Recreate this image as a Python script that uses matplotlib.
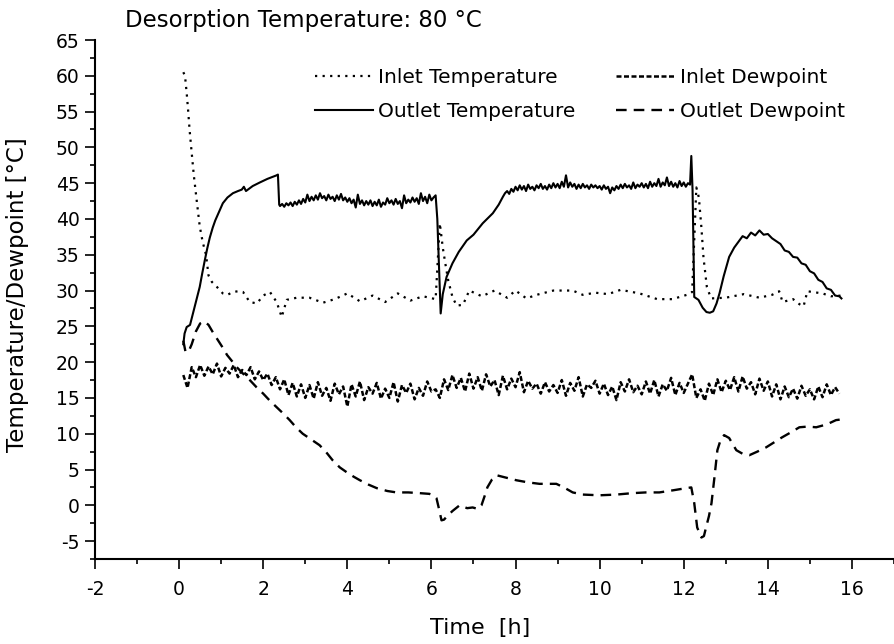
import numpy as np
import matplotlib
matplotlib.use("Agg")
import matplotlib.pyplot as plt
from matplotlib.ticker import MultipleLocator

plt.rcParams['font.family'] = ['DejaVu Sans']

# ---------------- data ----------------
# Inlet temperature
t_in_temp = [0.10, 0.14, 0.18, 0.21, 0.25, 0.30, 0.35, 0.42, 0.49, 0.56, 0.64, 0.70, 0.78, 0.90,
             1.04, 1.15, 1.28, 1.40, 1.52, 1.68, 1.85, 2.00, 2.16, 2.32, 2.44, 2.56, 2.80, 3.10,
             3.42, 3.70, 4.0, 4.3, 4.6, 4.9, 5.2, 5.5, 5.8, 6.1, 6.2, 6.27, 6.33, 6.40, 6.50,
             6.60, 6.75, 6.9, 7.2, 7.5, 7.8, 8.0, 8.26, 8.5, 8.9, 9.36, 9.6, 9.9, 10.2, 10.5,
             10.95, 11.37, 11.73, 12.13, 12.2, 12.3, 12.36, 12.42, 12.47, 12.55, 12.65, 13.0,
             13.43, 13.8, 14.1, 14.27, 14.35, 14.6, 14.75, 14.85, 14.94, 15.3, 15.5, 15.75]
inlet_temp = [60.5, 60.0, 57.6, 55.5, 52.4, 49.2, 46.1, 42.5, 39.0, 36.8, 35.0, 32.1, 31.2, 30.5,
              29.6, 29.4, 29.8, 29.9, 29.8, 28.4, 28.2, 29.3, 29.8, 28.4, 26.3, 28.7, 29.0, 29.0,
              28.3, 28.8, 29.6, 28.5, 29.3, 28.4, 29.6, 28.6, 29.2, 28.8, 39.4, 36.0, 33.8, 31.4, 29.1,
              27.9, 28.0, 30.0, 29.2, 30.0, 29.0, 30.0, 28.9, 29.4, 30.0, 30.0, 29.4, 29.7, 29.5, 30.1,
              29.6, 28.8, 28.8, 29.5, 29.8, 44.4, 43.0, 38.8, 34.6, 30.5, 28.9, 29.0,
              29.5, 29.0, 29.4, 29.9, 28.4, 28.8, 28.1, 27.8, 29.9, 29.6, 29.2, 29.3]

# Outlet temperature (rise, plateau 1, recovery, plateau 2, final hump)
t_out_rise = [0.10, 0.13, 0.18, 0.26, 0.33, 0.41, 0.49, 0.55, 0.61, 0.67, 0.73, 0.80, 0.86, 0.95,
              1.04, 1.15, 1.28, 1.40, 1.49, 1.54, 1.59, 1.75, 1.92, 2.10, 2.32, 2.35, 2.38]
out_rise = [22.5, 24.0, 24.9, 25.2, 26.8, 28.6, 30.5, 32.4, 34.2, 35.9, 37.4, 38.8, 39.8, 41.0,
            42.2, 43.0, 43.6, 43.9, 44.1, 44.5, 43.9, 44.6, 45.1, 45.6, 46.1, 46.2, 42.0]
out_plateau1 = [41.8, 42.1, 41.7, 42.2, 41.9, 42.3, 41.8, 42.4, 42.0, 42.6, 42.1, 42.8,
                42.3, 43.4, 42.5, 43.1, 42.6, 43.3, 42.7, 43.6, 42.9, 43.2, 42.6, 43.4, 42.8, 43.1,
                42.5, 43.3, 42.7, 43.5, 42.6, 43.0,
                42.4, 42.9, 42.2, 42.7, 41.6, 43.4, 42.1, 42.6, 41.9, 42.5, 42.0, 42.6, 41.8, 42.4,
                41.9, 42.7, 41.7, 42.3, 42.0, 42.9,
                42.2, 42.6, 42.0, 42.8, 42.1, 42.5, 41.5, 43.3, 42.2, 42.7, 42.3, 43.0, 42.4, 42.9,
                42.1, 43.6, 42.5, 43.1, 42.2, 43.4,
                42.6, 43.0, 43.3]
t_out_plateau1 = np.linspace(2.40, 6.10, len(out_plateau1))
t_out_recov = [6.14, 6.22, 6.27, 6.36, 6.50, 6.65, 6.84, 7.00, 7.22, 7.46, 7.60, 7.70]
out_recov = [40.0, 26.8, 29.5, 31.9, 33.8, 35.4, 37.0, 37.8, 39.4, 40.8, 42.0, 43.1]
out_plateau2 = [43.6, 43.9, 43.5, 44.2, 43.8,
                44.5, 44.0, 44.7, 44.1, 44.6, 43.9, 44.8, 44.2, 44.5, 44.0, 44.7, 44.3, 44.9, 44.2,
                44.6, 44.1, 44.8, 44.3, 45.0, 44.4,
                44.9, 44.3, 45.2, 44.5, 46.1, 44.4, 45.1, 44.5, 44.9, 44.2, 44.8, 44.3, 44.9, 44.4,
                44.7, 44.2, 44.8, 44.4, 44.7, 44.3,
                44.6, 44.1, 44.7, 44.2, 44.5, 43.6, 44.4, 44.0, 44.6, 44.2, 44.8, 44.3, 44.9, 44.4,
                44.7, 44.2, 45.1, 44.3, 44.8, 44.5,
                45.0, 44.4, 44.9, 44.3, 45.2, 44.5, 45.0, 44.6, 45.6, 44.5, 45.1, 44.7, 45.8, 44.6,
                45.2, 44.5, 45.0, 44.4, 45.3, 44.6,
                45.1, 44.5, 45.0, 44.8]
t_out_plateau2 = np.linspace(7.75, 12.15, len(out_plateau2))
t_out_end = [12.18, 12.21, 12.25, 12.35, 12.45, 12.54, 12.62, 12.70, 12.78, 12.85, 12.95, 13.08,
             13.20, 13.30, 13.40, 13.50, 13.60, 13.70, 13.80, 13.90, 14.00, 14.10, 14.20, 14.30,
             14.40, 14.50, 14.60, 14.70, 14.80, 14.90, 15.00, 15.10, 15.20, 15.30, 15.40, 15.50,
             15.60, 15.70, 15.75]
out_end = [48.8, 44.0, 29.1, 28.7, 27.6, 27.0, 26.9, 27.1, 28.2, 29.6, 32.0, 34.7,
           36.0, 36.8, 37.6, 37.3, 38.1, 37.7, 38.4, 37.8, 37.9, 37.3, 36.9, 36.5,
           35.6, 35.4, 34.7, 34.6, 33.8, 33.6, 32.7, 32.4, 31.5, 31.2, 30.3, 30.1,
           29.3, 29.2, 28.9]

# Inlet dewpoint (0.1 h sampling from 0.1 h to 15.7 h)
inlet_dew = [18.2, 16.4, 19.3, 17.9, 19.6, 18.1, 19.4, 18.3, 19.8, 18.0,
             19.2, 18.4, 19.6, 17.9, 18.9, 18.2, 19.3, 17.6, 18.7, 17.5,
             18.4, 16.8, 17.9, 16.2, 17.6, 15.4, 17.1, 15.2, 16.9, 15.0,
             16.8, 14.9, 17.2, 15.3, 16.4, 14.6, 17.0, 15.5, 16.6, 13.8,
             16.9, 15.2, 17.3, 14.7, 16.5, 15.6, 17.1, 14.9, 16.3, 15.0,
             17.2, 14.5, 16.8, 15.7, 17.0, 14.8, 16.4, 15.3, 17.3, 15.9,
             16.2, 15.0, 17.6, 16.1, 18.2, 16.4, 17.8, 15.9, 18.4, 16.3,
             17.9, 16.0, 18.3, 16.6, 17.5, 15.4, 18.1, 16.2, 17.7, 16.5,
             18.6, 15.8, 17.4, 16.3, 17.0, 15.6, 17.2, 15.9, 16.8, 15.7,
             17.5, 15.3, 17.1, 16.0, 17.9, 15.2, 16.9, 16.4, 17.4, 15.6,
             17.0, 15.4, 16.6, 14.7, 17.2, 15.9, 17.6, 15.8, 16.7, 15.5,
             17.3, 15.6, 17.5, 15.2, 16.9, 16.0, 17.8, 15.4, 17.1, 15.7,
             17.0, 18.3, 15.0, 16.2, 14.6, 17.0, 15.4, 17.6, 15.8, 17.4,
             16.1, 17.9, 15.9, 18.0, 16.3, 17.2, 15.5, 17.7, 16.0, 17.3,
             15.2, 16.9, 14.8, 16.6, 15.1, 16.3, 14.9, 16.7, 15.3, 16.2,
             14.8, 16.6, 15.1, 16.9, 15.4, 16.5, 15.6]
t_inlet_dew = np.linspace(0.1, 15.7, len(inlet_dew))

# Outlet dewpoint
t_out_dew = [0.10, 0.15, 0.22, 0.30, 0.40, 0.50, 0.60, 0.70, 0.82, 0.92, 1.04, 1.14, 1.25, 1.37,
             1.52, 1.68, 1.84, 2.00, 2.16, 2.32, 2.48, 2.63, 2.78, 2.94, 3.14, 3.34, 3.50, 3.65,
             3.82, 3.99, 4.15, 4.30, 4.50, 4.70, 4.95, 5.17, 5.45, 5.72, 5.95, 6.05, 6.12, 6.18,
             6.24, 6.30, 6.36, 6.50, 6.67, 6.85, 6.98, 7.10, 7.19, 7.26, 7.33, 7.44, 7.55, 7.75,
             8.02, 8.30, 8.57, 8.97, 9.15, 9.36, 9.60, 10.0, 10.4, 10.78, 11.1, 11.42, 11.75,
             12.06, 12.18, 12.25, 12.32, 12.42, 12.48, 12.53, 12.60, 12.66, 12.73, 12.80, 12.88,
             12.96, 13.08, 13.16, 13.25, 13.40, 13.56, 13.75, 13.96, 14.15, 14.34, 14.55, 14.75,
             14.95, 15.15, 15.40, 15.62, 15.75]
out_dew = [23.0, 21.5, 21.4, 22.5, 24.3, 25.4, 25.7, 25.2, 24.0, 23.1, 22.0, 21.0, 20.2, 19.3,
           18.4, 17.5, 16.5, 15.6, 14.6, 13.7, 12.8, 11.9, 10.9, 10.0, 9.2, 8.4, 7.4, 6.3,
           5.3, 4.6, 4.0, 3.5, 2.9, 2.4, 2.0, 1.8, 1.8, 1.7, 1.6, 1.4, 1.0, -0.5,
           -2.1, -2.0, -1.6, -0.8, 0.0, -0.4, -0.3, -0.5, 0.0, 1.2, 2.5, 3.6, 4.2, 3.9,
           3.5, 3.2, 3.0, 3.0, 2.5, 1.8, 1.5, 1.4, 1.5, 1.7, 1.8, 1.8, 2.1,
           2.4, 2.5, 0.3, -3.1, -4.5, -4.3, -3.1, -1.5, 0.3, 3.9, 7.7, 9.2,
           9.8, 9.4, 8.6, 7.7, 7.2, 7.0, 7.5, 8.1, 8.8, 9.5, 10.2, 10.9,
           11.0, 10.9, 11.3, 11.9, 12.0]

x_ticks = [-2, 0, 2, 4, 6, 8, 10, 12, 14, 16]
y_ticks = [-5, 0, 5, 10, 15, 20, 25, 30, 35, 40, 45, 50, 55, 60, 65]

# ---------------- plot ----------------
t_out = np.concatenate([t_out_rise, t_out_plateau1, t_out_recov, t_out_plateau2, t_out_end])
out_temp = np.concatenate([out_rise, out_plateau1, out_recov, out_plateau2, out_end])

W, H = 894, 644
fig = plt.figure(figsize=(W / 100, H / 100), dpi=100)
ax = fig.add_axes([95 / W, 85 / H, 799 / W, 519 / H])

l_it, = ax.plot(t_in_temp, inlet_temp, color='black', lw=1.6, linestyle=(0, (1, 2.4)),
                label='Inlet Temperature')
l_ot, = ax.plot(t_out, out_temp, color='black', lw=1.5, linestyle='-',
                label='Outlet Temperature')
l_id, = ax.plot(t_inlet_dew, inlet_dew, color='black', lw=1.8, linestyle=(0, (2.0, 1.0)),
                label='Inlet Dewpoint')
l_od, = ax.plot(t_out_dew, out_dew, color='black', lw=1.7, linestyle=(0, (4.5, 3.0)),
                label='Outlet Dewpoint')

ax.set_xlim(-2, 17)
ax.set_ylim(-7.5, 65)
ax.set_xticks(x_ticks)
ax.set_xticklabels([str(v) for v in x_ticks])
ax.set_yticks(y_ticks)
ax.set_yticklabels([str(v) for v in y_ticks])
ax.xaxis.set_minor_locator(MultipleLocator(1))
ax.yaxis.set_minor_locator(MultipleLocator(2.5))

for s in ['top', 'right']:
    ax.spines[s].set_visible(False)
for s in ['left', 'bottom']:
    ax.spines[s].set_linewidth(1.5)

ax.tick_params(axis='both', which='major', direction='out', length=7, width=1.2,
               labelsize=13.5, colors='black')
ax.tick_params(axis='both', which='minor', direction='out', length=3.5, width=1.2)
ax.tick_params(axis='x', which='major', pad=8)
ax.tick_params(axis='y', which='major', pad=4)

fig.text(480 / W, 1 - 628 / H, 'Time  [h]', fontsize=16, ha='center', va='center')
fig.text(18 / W, 1 - 295 / H, 'Temperature/Dewpoint [°C]', fontsize=16.5, ha='center',
         va='center', rotation=90)
fig.text(125 / W, 1 - 20 / H, 'Desorption Temperature: 80 °C', fontsize=16.5,
         ha='left', va='center')

leg = ax.legend(handles=[l_it, l_ot, l_id, l_od], ncol=2, frameon=False, fontsize=14.5,
                loc='upper left', bbox_to_anchor=(315 / W, 1 - 68 / H),
                bbox_transform=fig.transFigure, handlelength=2.9,
                handletextpad=0.25, columnspacing=2.0, labelspacing=0.75,
                borderaxespad=0.0, borderpad=0.0)

fig.savefig('out.png', dpi=100)
